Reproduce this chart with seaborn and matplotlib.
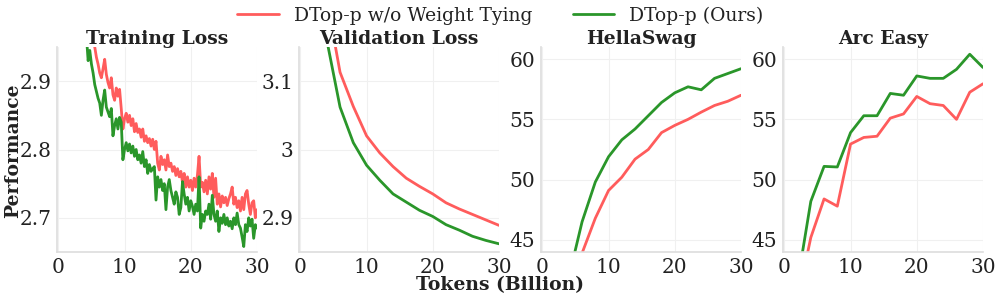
import numpy as np
import pandas as pd
import matplotlib
matplotlib.use("Agg")
import matplotlib.pyplot as plt
import seaborn as sns
from matplotlib.lines import Line2D

# ---------------- data ----------------
series_names = ["DTop-p w/o Weight Tying", "DTop-p (Ours)"]
colors = ["#ff5c5c", "#2a962a"]

# Training loss (noisy), x = 4.0 .. 30.0 step 0.25
train_x = [4.0 + 0.25 * i for i in range(105)]
train_red = [
    3.02, 3.00, 2.99, 2.975, 2.97, 2.958, 2.95, 2.935, 2.925, 2.912,
    2.905, 2.918, 2.932, 2.91, 2.898, 2.89, 2.905, 2.88, 2.872, 2.89,
    2.878, 2.888, 2.86, 2.83, 2.845, 2.853, 2.84, 2.85, 2.835, 2.845,
    2.826, 2.838, 2.825, 2.83, 2.818, 2.83, 2.812, 2.82, 2.81, 2.816,
    2.805, 2.815, 2.80, 2.812, 2.78, 2.77, 2.79, 2.778, 2.785, 2.77,
    2.792, 2.775, 2.78, 2.768, 2.775, 2.762, 2.772, 2.76, 2.768, 2.752,
    2.765, 2.745, 2.76, 2.745, 2.755, 2.74, 2.758, 2.745, 2.762, 2.79,
    2.745, 2.752, 2.738, 2.755, 2.735, 2.76, 2.742, 2.765, 2.73, 2.758,
    2.72, 2.735, 2.716, 2.732, 2.722, 2.73, 2.718, 2.728, 2.735, 2.745,
    2.72, 2.73, 2.715, 2.725, 2.71, 2.73, 2.712, 2.735, 2.74, 2.72,
    2.705, 2.722, 2.725, 2.70, 2.712,
]
train_green = [
    2.99, 2.965, 2.93, 2.945, 2.925, 2.912, 2.895, 2.885, 2.875, 2.868,
    2.85, 2.872, 2.887, 2.862, 2.855, 2.848, 2.86, 2.82, 2.835, 2.845,
    2.83, 2.847, 2.84, 2.785, 2.80, 2.81, 2.798, 2.808, 2.795, 2.805,
    2.79, 2.80, 2.785, 2.792, 2.78, 2.797, 2.775, 2.785, 2.765, 2.778,
    2.768, 2.772, 2.775, 2.726, 2.76, 2.745, 2.756, 2.74, 2.75, 2.712,
    2.745, 2.756, 2.74, 2.73, 2.72, 2.738, 2.73, 2.705, 2.715, 2.753,
    2.735, 2.72, 2.73, 2.71, 2.725, 2.717, 2.705, 2.72, 2.71, 2.76,
    2.685, 2.705, 2.695, 2.71, 2.705, 2.72, 2.698, 2.733, 2.705, 2.695,
    2.71, 2.68, 2.70, 2.692, 2.705, 2.69, 2.70, 2.688, 2.695, 2.684,
    2.70, 2.69, 2.707, 2.69, 2.685, 2.672, 2.658, 2.69, 2.68, 2.70,
    2.688, 2.698, 2.67, 2.69, 2.685,
]

# Evaluation checkpoints
eval_x = [2, 4, 6, 8, 10, 12, 14, 16, 18, 20, 22, 24, 26, 28, 30]
val_red = [3.45, 3.22, 3.113, 3.063, 3.02, 2.995, 2.975, 2.958, 2.946,
           2.935, 2.922, 2.913, 2.905, 2.897, 2.889]
val_green = [3.40, 3.16, 3.062, 3.01, 2.977, 2.955, 2.935, 2.923, 2.911,
             2.902, 2.89, 2.882, 2.873, 2.867, 2.862]
hella_red = [36.0, 40.5, 43.9, 46.8, 49.1, 50.2, 51.7, 52.5, 53.9,
             54.5, 55.0, 55.6, 56.15, 56.5, 57.0]
hella_green = [37.5, 41.9, 46.5, 49.8, 51.9, 53.3, 54.2, 55.3, 56.4,
               57.2, 57.7, 57.45, 58.4, 58.8, 59.2]
arc_red = [40.0, 45.2, 48.4, 47.8, 52.95, 53.5, 53.6, 55.1, 55.45,
           56.9, 56.3, 56.15, 55.0, 57.25, 57.95]
arc_green = [41.5, 48.2, 51.1, 51.05, 53.9, 55.3, 55.3, 57.15, 57.0,
             58.6, 58.4, 58.4, 59.15, 60.4, 59.3]

titles = ["Training Loss", "Validation Loss", "HellaSwag", "Arc Easy"]
ylims = [(2.65, 2.95), (2.85, 3.15), (44, 61), (44, 61)]
yticks = [[2.7, 2.8, 2.9], [2.9, 3.0, 3.1], [45, 50, 55, 60], [45, 50, 55, 60]]
yticklabels = [["2.7", "2.8", "2.9"], ["2.9", "3", "3.1"],
               ["45", "50", "55", "60"], ["45", "50", "55", "60"]]
xticks = [0, 10, 20, 30]


def make_df(x, red, green):
    return pd.DataFrame({
        "x": list(x) * 2,
        "y": list(red) + list(green),
        "series": [series_names[0]] * len(red) + [series_names[1]] * len(green),
    })


dfs = [
    make_df(train_x, train_red, train_green),
    make_df(eval_x, val_red, val_green),
    make_df(eval_x, hella_red, hella_green),
    make_df(eval_x, arc_red, arc_green),
]

# ---------------- style ----------------
sns.set_theme(style="whitegrid")
plt.rcParams["font.family"] = ["DejaVu Serif"]
plt.rcParams["text.color"] = "#222222"

W, H = 997, 298
fig = plt.figure(figsize=(W / 100, H / 100), dpi=100)
palette = dict(zip(series_names, colors))

lefts = [57, 299, 541, 783]
ax_w = 200
ax_top, ax_bot = 47, 252

axes = []
for i in range(4):
    ax = fig.add_axes([lefts[i] / W, (H - ax_bot) / H, ax_w / W, (ax_bot - ax_top) / H])
    axes.append(ax)
    sns.lineplot(data=dfs[i], x="x", y="y", hue="series", palette=palette,
                 hue_order=series_names, linewidth=2.0, ax=ax, legend=False,
                 sort=False, estimator=None)
    ax.set_xlim(-0.2, 30)
    ax.set_ylim(*ylims[i])
    ax.set_xticks(xticks)
    ax.set_xticklabels([str(t) for t in xticks])
    ax.set_yticks(yticks[i])
    ax.set_yticklabels(yticklabels[i])
    ax.tick_params(axis="both", labelsize=14.5, labelcolor="#222222", length=3,
                   width=0.8, pad=1, color="#cccccc")
    for s in ["top", "right"]:
        ax.spines[s].set_visible(False)
    for s in ["left", "bottom"]:
        ax.spines[s].set_color("#dddddd")
        ax.spines[s].set_linewidth(1.2)
    ax.grid(True, color="#f0f0f0", linewidth=0.8)
    ax.set_xlabel("")
    ax.set_ylabel("")
    ax.set_title(titles[i], fontsize=13.5, fontweight="bold", pad=2)

fig.text(13 / W, 1 - 151 / H, "Performance", rotation=90, ha="center",
         va="center", fontsize=13.5, fontweight="bold")
fig.text(0.502, 0.045, "Tokens (Billion)", ha="center", va="center",
         fontsize=13.5, fontweight="bold")

handles = [Line2D([0], [0], color=c, lw=2.0) for c in colors]
fig.legend(handles, series_names, loc="upper center", bbox_to_anchor=(0.502, 1.035),
           ncol=2, frameon=False, fontsize=13.5, handlelength=2.2,
           columnspacing=2.2, handletextpad=0.8)

fig.savefig("out.png", dpi=100)
